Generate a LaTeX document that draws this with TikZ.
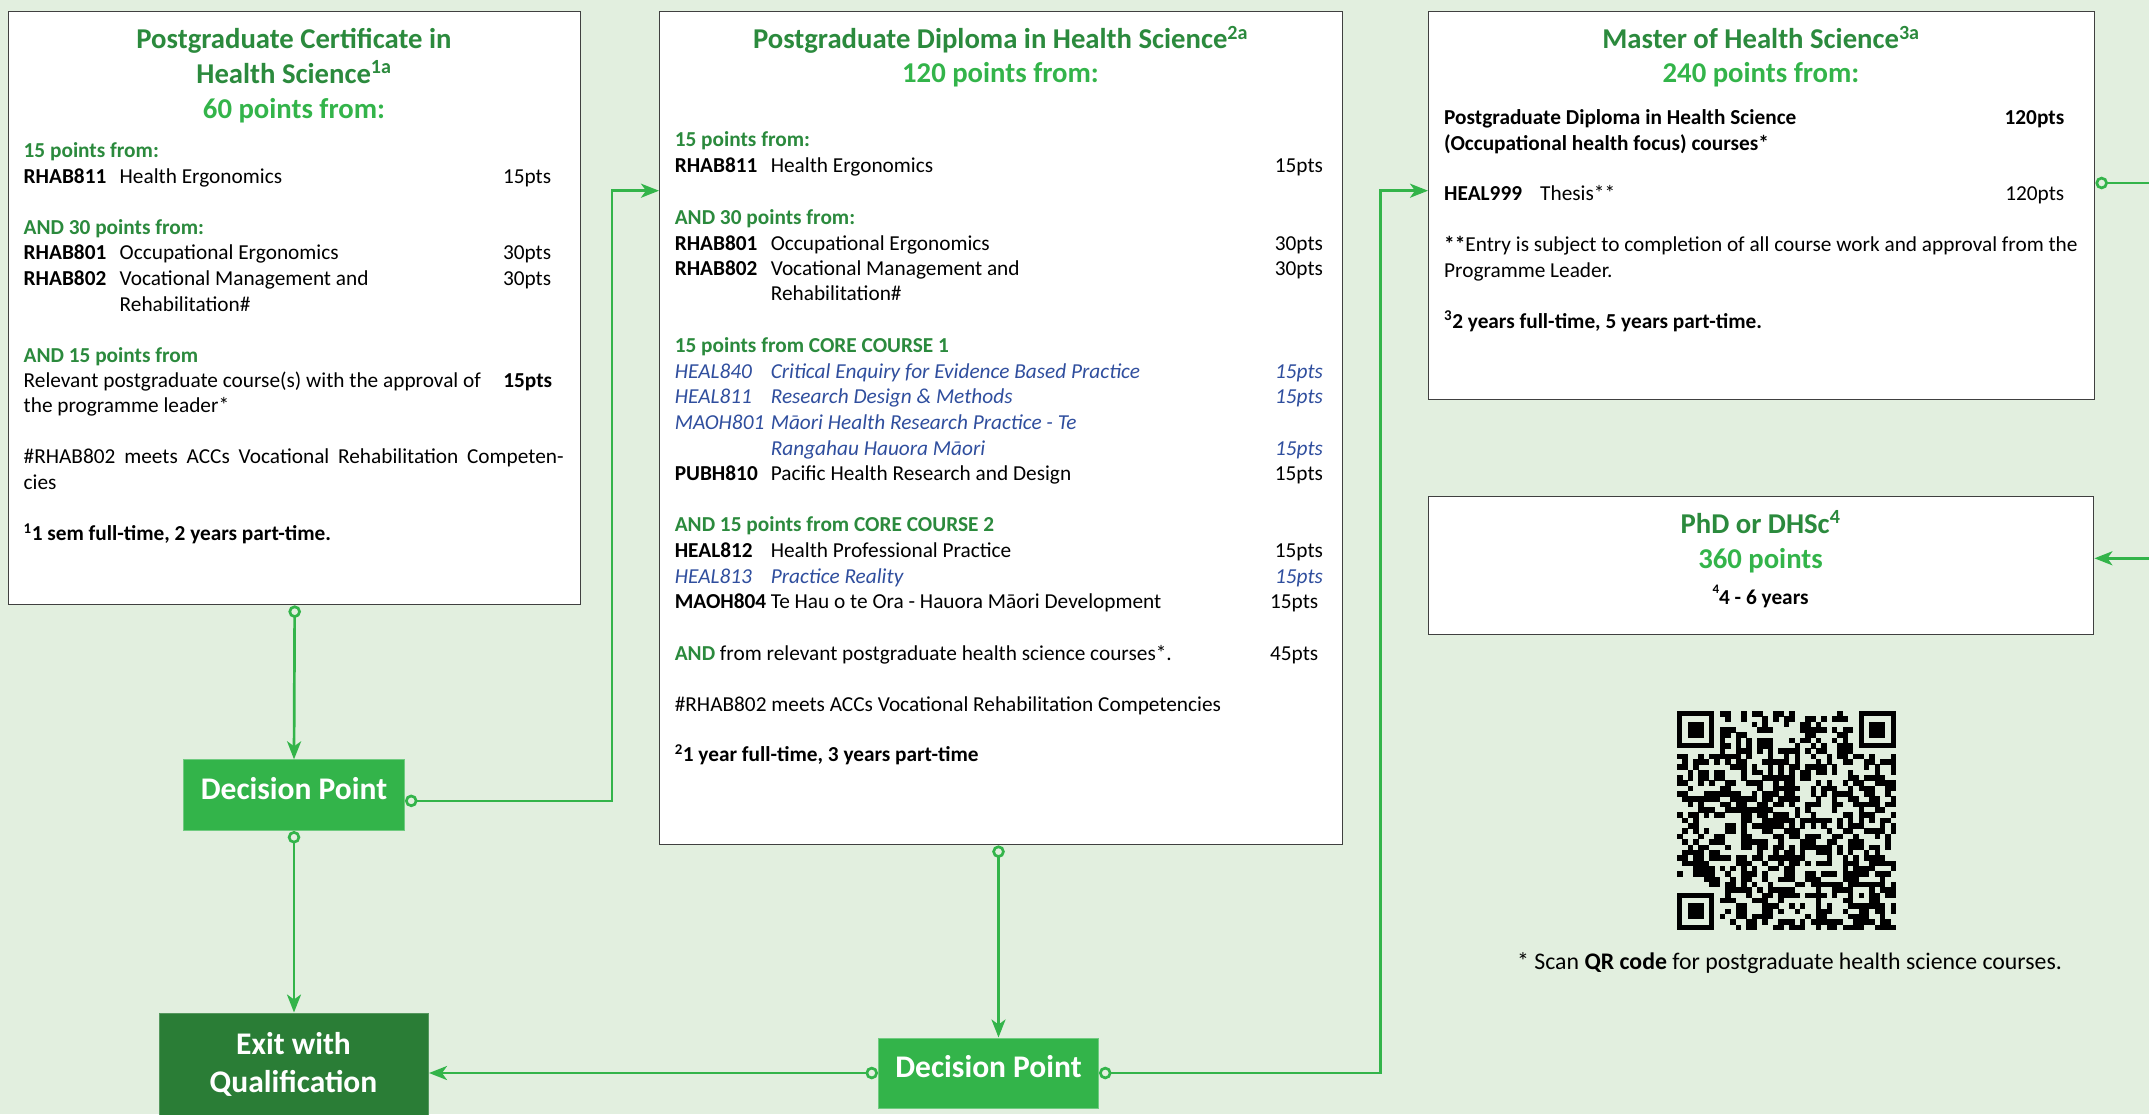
\documentclass[tikz,border=0pt]{standalone}
\usepackage{fontspec}
\setmainfont{Carlito}
\usetikzlibrary{arrows.meta,calc}
\definecolor{bg}{HTML}{E2EFDF}
\definecolor{dgreen}{HTML}{2B8A3D}
\definecolor{lgreen}{HTML}{33B44A}
\definecolor{exitgreen}{HTML}{2A7D36}
\definecolor{cblue}{HTML}{2F4E9E}
\definecolor{boxline}{HTML}{404040}
\newcommand\rowln[4]{\hbox to #1{\makebox[96pt][l]{#2}#3\hfill #4}}
\begin{document}
\begin{tikzpicture}[x=1pt,y=-1pt,
  box/.style={draw=boxline, line width=1.4pt, fill=white, inner sep=0, anchor=north west},
  txt/.style={anchor=base west, inner sep=0, font=\fontsize{21.3}{26}\selectfont},
  hd/.style={txt, text=dgreen, font=\fontsize{21.3}{26}\selectfont\bfseries},
  btxt/.style={txt, font=\fontsize{21.3}{26}\selectfont\bfseries},
  itx/.style={txt, text=cblue, font=\fontsize{21.3}{26}\selectfont\itshape},
  ttl/.style={anchor=base, inner sep=0, text=dgreen, font=\fontsize{28.7}{36}\selectfont\bfseries},
  ttlb/.style={ttl, text=lgreen},
  dpbox/.style={draw=lgreen!70!white, line width=1pt, fill=lgreen, text=white, inner sep=0,
    anchor=north west, font=\fontsize{31.5}{38}\selectfont\bfseries, text height=20pt, text depth=10.7pt},
  exitbox/.style={draw=exitgreen!80!white, line width=1pt, fill=exitgreen, inner sep=0, anchor=north west},
  exittxt/.style={anchor=base, inner sep=0, text=white, font=\fontsize{31.5}{38}\selectfont\bfseries},
  conn/.style={draw=lgreen, line width=2.7pt,
    {Circle[open,length=12.5pt,width=12.5pt]}-{Stealth[length=18pt,width=14pt,inset=5pt]}}
]
\useasboundingbox (0,0) rectangle (2149,1114);
\fill[bg] (0,0) rectangle (2149,1114);
\clip (0,0) rectangle (2149,1114);

% ---------- boxes ----------
\node[box, minimum width=572pt, minimum height=593pt] (b1) at (8,11) {};
\node[box, minimum width=683pt, minimum height=833pt] (b2) at (659,11) {};
\node[box, minimum width=666pt, minimum height=388pt] (b3) at (1428,11) {};
\node[box, minimum width=665pt, minimum height=138pt] (b4) at (1428,496) {};
\node[dpbox, minimum width=221pt, minimum height=70.7pt] (dp1) at (183,759.3) {Decision Point};
\node[dpbox, minimum width=220pt, minimum height=70pt] (dp2) at (878,1037.5) {Decision Point};
\node[exitbox, minimum width=269pt, minimum height=115pt] (exit) at (159,1012.5) {};
\node[exittxt] (exit1) at (293.5,1054) {Exit with};
\node[exittxt] (exit2) at (293.5,1092.7) {Qualification};

% ---------- box 1 ----------
\node[ttl] (t1a) at (294,48.2) {Postgraduate Certificate in};
\node[ttl] (t1b) at (294,83) {Health Science\textsuperscript{1a}};
\node[ttlb] (t1c) at (294,118.6) {60 points from:};
\node[hd] (r1a) at (23.5,157.3) {15 points from:};
\node[txt] (r1b) at (23.5,183) {\rowln{527.5pt}{\textbf{RHAB811}}{Health Ergonomics}{15pts}};
\node[hd] (r1c) at (23.5,234) {AND 30 points from:};
\node[txt] (r1d) at (23.5,259) {\rowln{527.5pt}{\textbf{RHAB801}}{Occupational Ergonomics}{30pts}};
\node[txt] (r1e) at (23.5,285.4) {\rowln{527.5pt}{\textbf{RHAB802}}{Vocational Management and}{30pts}};
\node[txt] (r1f) at (119.5,311) {Rehabilitation\#};
\node[hd] (r1g) at (23.5,362) {AND 15 points from};
\node[txt] (r1h) at (23.5,387.4) {\hbox to 528.5pt{Relevant postgraduate course(s) with the approval of\hfill\textbf{15pts}}};
\node[txt] (r1i) at (23.5,412.6) {the programme leader*};
\node[txt] (r1j) at (23.5,463.6) {\hbox to 540pt{\#RHAB802\hfill meets\hfill ACCs\hfill Vocational\hfill Rehabilitation\hfill Competen-}};
\node[txt] (r1k) at (23.5,489.3) {cies};
\node[btxt] (r1l) at (23.5,540.7) {\textsuperscript{1}1 sem full-time, 2 years part-time.};

% ---------- box 2 ----------
\node[ttl] (t2a) at (1000.5,48.3) {Postgraduate Diploma in Health Science\textsuperscript{2a}};
\node[ttlb] (t2b) at (1000.5,82.5) {120 points from:};
\node[hd] (r2a) at (674.6,146.7) {15 points from:};
\node[txt] (r2b) at (674.6,172.7) {\rowln{648.2pt}{\textbf{RHAB811}}{Health Ergonomics}{15pts}};
\node[hd] (r2c) at (674.6,224) {AND 30 points from:};
\node[txt] (r2d) at (674.6,250) {\rowln{648.2pt}{\textbf{RHAB801}}{Occupational Ergonomics}{30pts}};
\node[txt] (r2e) at (674.6,275.5) {\rowln{648.2pt}{\textbf{RHAB802}}{Vocational Management and}{30pts}};
\node[txt] (r2f) at (770.6,300.7) {Rehabilitation\#};
\node[hd] (r2g) at (674.6,352) {15 points from CORE COURSE 1};
\node[itx] (r2h) at (674.6,378.3) {\rowln{648.2pt}{HEAL840}{Critical Enquiry for Evidence Based Practice}{15pts}};
\node[itx] (r2i) at (674.6,403.3) {\rowln{648.2pt}{HEAL811}{Research Design \& Methods}{15pts}};
\node[itx] (r2j) at (674.6,429) {\rowln{648.2pt}{MAOH801}{Māori Health Research Practice - Te}{}};
\node[itx] (r2k) at (770.6,455) {\hbox to 552.2pt{Rangahau Hauora Māori\hfill 15pts}};
\node[txt] (r2l) at (674.6,480.7) {\rowln{648.2pt}{\textbf{PUBH810}}{Pacific Health Research and Design}{15pts}};
\node[hd] (r2m) at (674.6,531) {AND 15 points from CORE COURSE 2};
\node[txt] (r2n) at (674.6,557.3) {\rowln{648.2pt}{\textbf{HEAL812}}{Health Professional Practice}{15pts}};
\node[itx] (r2o) at (674.6,583.3) {\rowln{648.2pt}{HEAL813}{Practice Reality}{15pts}};
\node[txt] (r2p) at (674.6,608.3) {\rowln{643.4pt}{\textbf{MAOH804}}{Te Hau o te Ora - Hauora Māori Development}{15pts}};
\node[txt] (r2q) at (674.6,660) {\hbox to 643.4pt{\textcolor{dgreen}{\bfseries AND} from relevant postgraduate health science courses*.\hfill 45pts}};
\node[txt] (r2r) at (674.6,711) {\#RHAB802 meets ACCs Vocational Rehabilitation Competencies};
\node[btxt] (r2s) at (674.6,761.7) {\textsuperscript{2}1 year full-time, 3 years part-time};

% ---------- box 3 ----------
\node[ttl] (t3a) at (1761,48.3) {Master of Health Science\textsuperscript{3a}};
\node[ttlb] (t3b) at (1761,82.5) {240 points from:};
\node[btxt] (r3a) at (1444,124) {\hbox to 620pt{Postgraduate Diploma in Health Science\hfill 120pts}};
\node[btxt] (r3b) at (1444,150) {(Occupational health focus) courses*};
\node[txt] (r3c) at (1444,200.7) {\rowln{620pt}{\textbf{HEAL999}}{Thesis**}{120pts}};
\node[txt] (r3d) at (1444,251.7) {\textbf{**}Entry is subject to completion of all course work and approval from the};
\node[txt] (r3e) at (1444,277.7) {Programme Leader.};
\node[btxt] (r3f) at (1444,328.3) {\textsuperscript{3}2 years full-time, 5 years part-time.};

% ---------- box 4 ----------
\node[ttl] (t4a) at (1760.5,533) {PhD or DHSc\textsuperscript{4}};
\node[ttlb] (t4b) at (1760.5,568.3) {360 points};
\node[btxt, anchor=base] (t4c) at (1760.5,604) {\raisebox{11pt}{\fontsize{13}{13}\selectfont 4}4 - 6 years};

% ---------- QR code ----------
\pgfmathsetseed{4242}
\foreach \i in {0,...,40}{\foreach \j in {0,...,40}{
  \pgfmathrandominteger{\r}{0}{1}
  \pgfmathtruncatemacro\q{((\i<8 && \j<8) || (\i>32 && \j<8) || (\i<8 && \j>32) || (\i>31 && \i<37 && \j>31 && \j<37)) ? 0 : \r}
  \ifnum\q=1 \fill (1677+\i*5.34,711+\j*5.34) rectangle ++(5.5,5.5); \fi
}}
\foreach \a/\b in {0/0,34/0,0/34}{
  \fill (1677+\a*5.34,711+\b*5.34) rectangle ++(37.38,37.38);
  \fill[bg] (1677+\a*5.34+5.34,711+\b*5.34+5.34) rectangle ++(26.7,26.7);
  \fill (1677+\a*5.34+10.68,711+\b*5.34+10.68) rectangle ++(16.02,16.02);
}
\fill (1677+32*5.34,711+32*5.34) rectangle ++(26.7,26.7);
\fill[bg] (1677+33*5.34,711+33*5.34) rectangle ++(16.02,16.02);
\fill (1677+34*5.34,711+34*5.34) rectangle ++(5.34,5.34);
\node[txt, anchor=base, font=\fontsize{23.8}{28}\selectfont] (cap) at (1789.5,969) {* Scan \textbf{QR code} for postgraduate health science courses.};

% ---------- connectors ----------
\draw[conn] (b1.south) -- (dp1.north);
\draw[conn] (dp1.south) -- (exit.north);
\coordinate (j1) at (612,190.7);
\draw[conn] ($(dp1.east)+(0,5.7)$) -| (j1) -- (j1 -| b2.west);
\coordinate (b2s) at ($(b2.south)+(-2.7,0)$);
\draw[conn] (b2s) -- (b2s |- dp2.north);
\draw[conn] (dp2.west) -- (exit.east |- dp2.west);
\coordinate (j2) at (1380.2,190.7);
\draw[conn] (dp2.east) -| (j2) -- (j2 -| b3.west);
\coordinate (b3e) at ($(b3.east)+(0,-22.7)$);
\coordinate (j3) at (2180,558.3);
\draw[conn] (b3e) -| (j3) -- (j3 -| b4.east);
\end{tikzpicture}
\end{document}
